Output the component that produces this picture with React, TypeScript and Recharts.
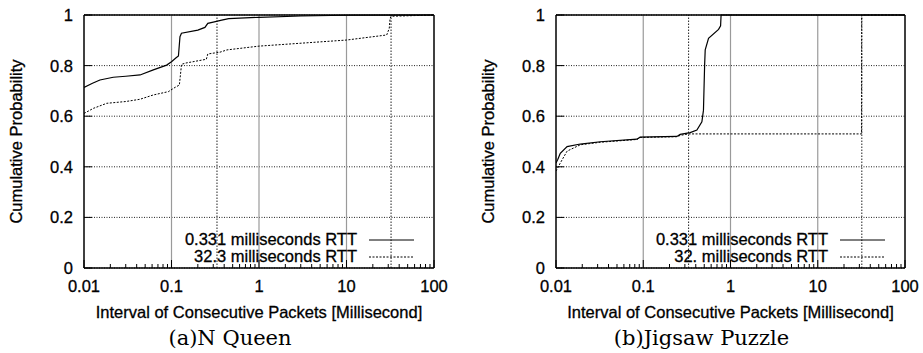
import React from 'react';
import {
    LineChart, Line, XAxis, YAxis, CartesianGrid, ReferenceLine, Legend
} from 'recharts';

const SANS = '"Liberation Sans", Arial, Helvetica, sans-serif';
const SERIF = '"DejaVu Serif", "Liberation Serif", serif';
const FONT_SIZE = 16.5;

// x ticks (log decades) and the minor ticks between them
const MAJOR_X = [0.01, 0.1, 1, 10, 100];
const MINOR_X = [
    0.02, 0.03, 0.04, 0.05, 0.06, 0.07, 0.08, 0.09,
    0.2, 0.3, 0.4, 0.5, 0.6, 0.7, 0.8, 0.9,
    2, 3, 4, 5, 6, 7, 8, 9,
    20, 30, 40, 50, 60, 70, 80, 90,
];
const Y_TICKS = [0, 0.2, 0.4, 0.6, 0.8, 1];
const DECADE_GRID = [0.1, 1, 10];

// (a) N Queen
const nqFastX = [0.01, 0.0125, 0.0152, 0.0216, 0.03, 0.0437, 0.062, 0.088, 0.1, 0.112, 0.12, 0.125, 0.13, 0.2, 0.241, 0.26, 0.3, 0.375, 0.45, 1, 3, 10, 100];
const nqFastY = [0.714, 0.73, 0.743, 0.754, 0.758, 0.763, 0.783, 0.802, 0.815, 0.83, 0.838, 0.914, 0.928, 0.94, 0.951, 0.967, 0.972, 0.98, 0.986, 0.991, 0.996, 0.999, 1];
const nqSlowX = [0.01, 0.0128, 0.0182, 0.03, 0.0437, 0.062, 0.092, 0.11, 0.123, 0.128, 0.13, 0.145, 0.25, 0.26, 0.358, 0.43, 1, 10, 28.8, 30.8, 31.5, 32.3, 100];
const nqSlowY = [0.611, 0.631, 0.651, 0.658, 0.667, 0.684, 0.697, 0.714, 0.723, 0.78, 0.805, 0.81, 0.825, 0.846, 0.853, 0.862, 0.877, 0.901, 0.921, 0.947, 0.987, 0.995, 1];
const nqRtt = [0.331, 32.3];

// (b) Jigsaw Puzzle
const jpFastX = [0.01, 0.0105, 0.0112, 0.0134, 0.019, 0.0322, 0.0846, 0.092, 0.243, 0.265, 0.345, 0.412, 0.47, 0.49, 0.505, 0.513, 0.56, 0.73, 0.77, 0.78, 100];
const jpFastY = [0.415, 0.43, 0.453, 0.48, 0.49, 0.499, 0.509, 0.517, 0.52, 0.528, 0.535, 0.545, 0.578, 0.624, 0.8, 0.862, 0.908, 0.943, 0.957, 1, 1];
const jpSlowX = [0.01, 0.0112, 0.0134, 0.019, 0.0322, 0.0846, 0.092, 0.243, 0.265, 0.33, 31.8, 31.9, 100];
const jpSlowY = [0.383, 0.415, 0.462, 0.487, 0.497, 0.508, 0.516, 0.519, 0.524, 0.53, 0.53, 1, 1];
const jpRtt = [0.331, 32];

const zip = (xs: number[], ys: number[]) => xs.map((x, i) => ({ x, y: ys[i] }));

// slightly heavier text, like the printed labels
const textInk = { fontFamily: SANS, fontSize: FONT_SIZE, fill: '#000', stroke: '#000', strokeWidth: 0.3 };

const BottomTick = ({ x, y, payload }: any) => {
    const major = MAJOR_X.includes(payload.value);
    return (
        <g>
            <line x1={x} x2={x} y1={y} y2={y - (major ? 8 : 4)} stroke="#000" />
            {major && (
                <text x={x} y={y + 24} textAnchor="middle" {...textInk}>
                    {payload.value}
                </text>
            )}
        </g>
    );
};

const TopTick = ({ x, y, payload }: any) => {
    const major = MAJOR_X.includes(payload.value);
    return <line x1={x} x2={x} y1={y} y2={y + (major ? 8 : 4)} stroke="#000" />;
};

const LeftTick = ({ x, y, payload }: any) => (
    <g>
        <line x1={x} x2={x + 8} y1={y} y2={y} stroke="#000" />
        <text x={x - 11} y={y} dy="0.36em" textAnchor="end" {...textInk}>
            {payload.value}
        </text>
    </g>
);

const RightTick = ({ x, y }: any) => <line x1={x} x2={x - 8} y1={y} y2={y} stroke="#000" />;

const LegendRows = ({ payload }: any) => (
    <div style={{ fontFamily: SANS, fontSize: FONT_SIZE, lineHeight: '17px', color: '#000', WebkitTextStroke: '0.3px #000' }}>
        {(payload || []).map((p: any) => (
            <div key={p.value} style={{ display: 'flex', justifyContent: 'flex-end', alignItems: 'center' }}>
                <span>{p.value}</span>
                <svg width={45} height={10} style={{ marginLeft: 12 }}>
                    <line x1={0} x2={45} y1={5} y2={5} stroke="#000" strokeWidth={1}
                        strokeDasharray={p.payload?.strokeDasharray} />
                </svg>
            </div>
        ))}
    </div>
);

type PanelProps = {
    left: number;
    width: number;
    yAxisWidth: number;
    marginRight: number;
    fast: { x: number; y: number }[];
    slow: { x: number; y: number }[];
    fastName: string;
    slowName: string;
    rtt: number[];
    caption: string;
};

function CdfPanel(p: PanelProps) {
    const height = 330;
    const plotRight = p.width - p.marginRight;
    const captionCenter = (p.yAxisWidth + plotRight) / 2 - 29;
    return (
        <div style={{ position: 'absolute', left: p.left, top: 0, width: p.width, height: 353 }}>
            <LineChart width={p.width} height={height} margin={{ top: 14, right: p.marginRight - 1, bottom: 7, left: 0 }}>
                <CartesianGrid vertical={false} stroke="#222" strokeDasharray="1 1.5" />
                {DECADE_GRID.map(v => (
                    <ReferenceLine key={v} x={v} stroke="#9a9a9a" strokeWidth={1.2} />
                ))}
                {p.rtt.map(v => (
                    <ReferenceLine key={`rtt-${v}`} x={v} stroke="#222" strokeDasharray="1.5 1.5" />
                ))}
                <XAxis
                    dataKey="x" type="number" scale="log" domain={[0.01, 100]} allowDataOverflow
                    ticks={[...MAJOR_X, ...MINOR_X]} interval={0} height={55}
                    tickSize={0} tickMargin={0} tickLine={false} tick={<BottomTick />}
                    axisLine={{ stroke: '#000', strokeWidth: 1.5 }}
                    label={{
                        content: ({ viewBox }: any) => (
                            <text x={viewBox.x + viewBox.width / 2} y={viewBox.y + 49.5} textAnchor="middle" {...textInk}>
                                Interval of Consecutive Packets [Millisecond]
                            </text>
                        ),
                    }}
                />
                <XAxis
                    xAxisId="top" orientation="top" type="number" scale="log" domain={[0.01, 100]} allowDataOverflow
                    ticks={[...MAJOR_X, ...MINOR_X]} interval={0} height={1}
                    tickSize={0} tickMargin={0} tickLine={false} tick={<TopTick />}
                    axisLine={{ stroke: '#000', strokeWidth: 1.5 }}
                />
                <YAxis
                    type="number" domain={[0, 1]} ticks={Y_TICKS} interval={0} width={p.yAxisWidth}
                    tickSize={0} tickMargin={0} tickLine={false} tick={<LeftTick />}
                    axisLine={{ stroke: '#000', strokeWidth: 1.5 }}
                    label={{
                        content: ({ viewBox }: any) => {
                            const cx = viewBox.x + viewBox.width - 68;
                            const cy = viewBox.y + viewBox.height / 2;
                            return (
                                <text x={cx} y={cy} transform={`rotate(-90 ${cx} ${cy})`} textAnchor="middle"
                                    dy="0.36em" {...textInk}>
                                    Cumulative Probability
                                </text>
                            );
                        },
                    }}
                />
                <YAxis
                    yAxisId="right" orientation="right" type="number" domain={[0, 1]} ticks={Y_TICKS}
                    interval={0} width={1} tickSize={0} tickMargin={0} tickLine={false} tick={<RightTick />}
                    axisLine={{ stroke: '#000', strokeWidth: 1.5 }}
                />
                <Line data={p.fast} dataKey="y" name={p.fastName} type="linear" stroke="#000" strokeWidth={1.2}
                    dot={false} activeDot={false} isAnimationActive={false} />
                <Line data={p.slow} dataKey="y" name={p.slowName} type="linear" stroke="#000" strokeWidth={1}
                    strokeDasharray="2 1.5" dot={false} activeDot={false} isAnimationActive={false} />
                <Legend
                    layout="horizontal" verticalAlign="middle" align="center"
                    content={<LegendRows />}
                    wrapperStyle={{ left: plotRight - 20 - 280, top: 231, width: 280 }}
                />
            </LineChart>
            <div style={{
                position: 'absolute', left: captionCenter - 150, width: 300,
                top: 326, textAlign: 'center', fontFamily: SERIF, fontSize: 21, color: '#000',
            }}>
                {p.caption}
            </div>
        </div>
    );
}

export default function App() {
    return (
        <div style={{ position: 'absolute', left: 0, top: 0, width: 923, height: 353, background: '#fff', overflow: 'hidden' }}>
            <CdfPanel
                left={0} width={460} yAxisWidth={84} marginRight={26}
                fast={zip(nqFastX, nqFastY)} slow={zip(nqSlowX, nqSlowY)}
                fastName="0.331 milliseconds RTT" slowName="32.3 milliseconds RTT"
                rtt={nqRtt} caption="(a)N Queen"
            />
            <CdfPanel
                left={461} width={462} yAxisWidth={95} marginRight={18}
                fast={zip(jpFastX, jpFastY)} slow={zip(jpSlowX, jpSlowY)}
                fastName="0.331 milliseconds RTT" slowName="32. milliseconds RTT"
                rtt={jpRtt} caption="(b)Jigsaw Puzzle"
            />
        </div>
    );
}
